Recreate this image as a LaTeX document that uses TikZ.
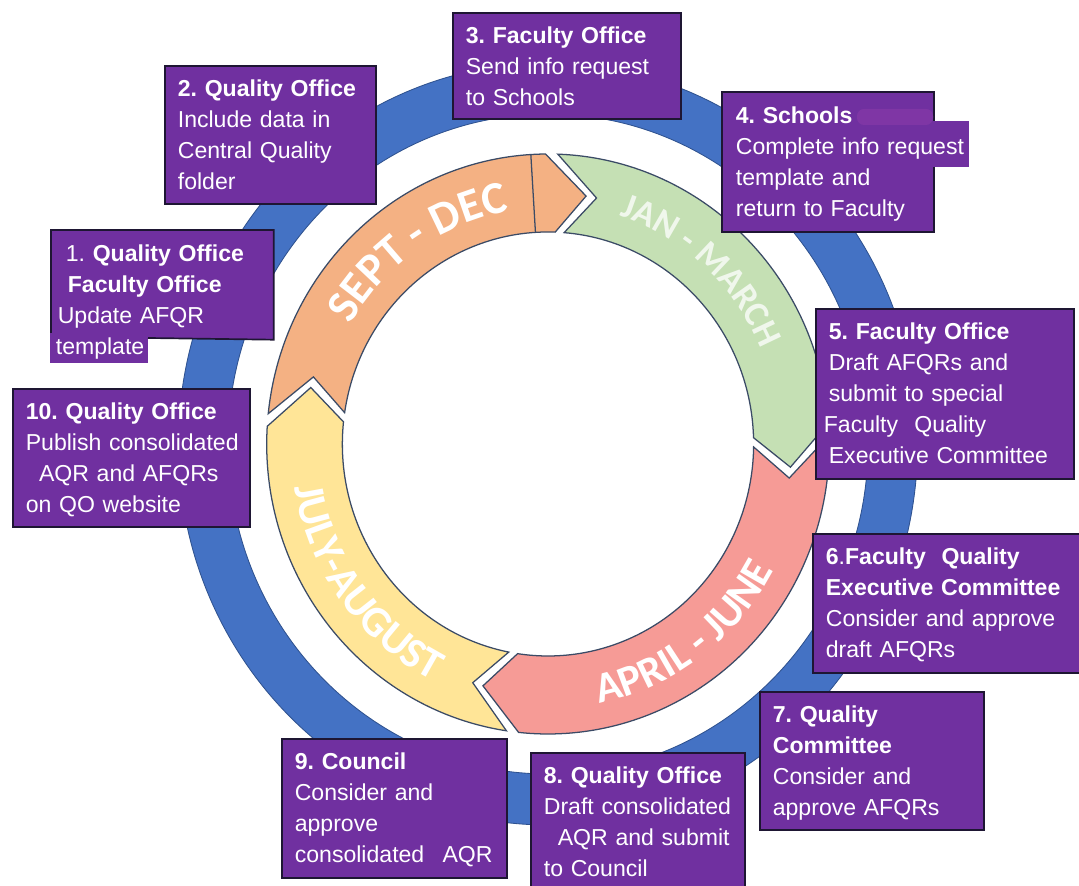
\documentclass[tikz,border=0pt]{standalone}
\usepackage{fontspec}
\setmainfont{Liberation Sans}
\newfontfamily\ringfont{Carlito}
\usetikzlibrary{decorations.text}

\definecolor{boxpurple}{HTML}{7030A0}
\definecolor{boxedge}{HTML}{1E1633}
\definecolor{ringblue}{HTML}{4472C4}
\definecolor{ringedge}{HTML}{2F528F}
\definecolor{sepdec}{HTML}{F4B183}
\definecolor{janmar}{HTML}{C5E0B4}
\definecolor{aprjun}{HTML}{F69B96}
\definecolor{julaug}{HTML}{FFE597}
\definecolor{segedge}{HTML}{3B4B66}
\definecolor{smudge}{HTML}{8238A6}

% radii of the coloured ring and sizes of the arrow heads (degrees)
\newcommand\ringout{290}
\newcommand\ringmid{251}
\newcommand\ringin{212}
\newcommand\headout{9.5}
\newcommand\headin{7}
\newcommand\headgap{2.5}

% one arrow of the cycle: colour, tip angle of the arrow before, own tip angle
\newcommand\ringseg[3]{%
  \filldraw[segline, fill=#1]
    ({#2+\headout-\headgap}:\ringout)
    arc[start angle={#2+\headout-\headgap}, end angle={#3+\headout}, radius=\ringout]
    -- (#3:\ringmid) -- ({#3+\headin}:\ringin)
    arc[start angle={#3+\headin}, end angle={#2+\headin-\headgap}, radius=\ringin]
    -- ({#2-\headgap}:\ringmid) -- cycle;}

\begin{document}
\begin{tikzpicture}[x=0.025cm, y=0.025cm,
  segline/.style={draw=segedge, line width=0.9pt},
  qline/.style={draw=boxedge, line width=1.2pt},
  qbox/.style={qline, fill=boxpurple, text=white, align=left, anchor=north west,
    inner xsep=0pt, inner ysep=0pt, text height=0.775cm,
    font=\fontsize{16.4}{22}\selectfont\frenchspacing,
    execute at begin node={\leftskip=0.325cm\relax}, execute at end node={\endgraf}},
  season/.style={decorate, decoration={text along path, text align=center,
    text color=white, text={#1}}}]
\useasboundingbox (0,0) rectangle (1079,886);

\begin{scope}[shift={(548,442)}, xscale=0.97]
% outer blue ring
\fill[ringblue, draw=ringedge, line width=0.6pt, even odd rule]
  (0,0) circle[radius=381] (0,0) circle[radius=330];

\ringseg{sepdec}{167}{81}
\ringseg{janmar}{81}{-5.3}
\ringseg{aprjun}{-5.3}{-105.5}
\ringseg{julaug}{-105.5}{-193}
\draw[segline] (93.5:\ringin) -- (93.5:\ringout);

\path[season={|\ringfont\bfseries\fontsize{32.7}{32.7}\selectfont|SEPT - DEC}]
  (164.5:236) arc[start angle=164.5, end angle=84.5, radius=236];
\path[season={|\ringfont\bfseries\fontsize{25.6}{25.6}\selectfont|JAN - MARCH},
  decoration={text color=janmar!25!white}]
  (88:239.5) arc[start angle=88, end angle=8, radius=239.5];
\path[season={|\ringfont\bfseries\fontsize{30.6}{30.6}\selectfont|APRIL - JUNE}]
  (-93.6:265) arc[start angle=-93.6, end angle=-13.6, radius=265];
\path[season={|\ringfont\bfseries\fontsize{30.6}{30.6}\selectfont|JULY-AUGUST}]
  (176.6:265) arc[start angle=176.6, end angle=256.6, radius=265];
\end{scope}

% step boxes
\fill[boxpurple] (50.3,553) rectangle (148,523);
\node[qbox, draw=none, text width=5.525cm, text depth=1.925cm,
  execute at begin node={\leftskip=0.1cm\relax}] (b1) at (51,656)
  {\hspace*{0.25cm}1. \textbf{Quality Office}\\\hspace*{0.3cm}\textbf{Faculty Office}\\\hspace*{0.05cm}Update AFQR\\template};
\draw[qline] (148,548) -- (b1.south east) -- (b1.north east) -- (b1.north west) -- (51,553);

\node[qbox, text width=5.275cm, text depth=2.675cm] (b2) at (164,821)
  {\textbf{2. Quality Office}\\Include data in\\Central Quality\\folder};

\node[qbox, text width=5.7cm, text depth=1.875cm] (b3) at (452,874)
  {\textbf{3. Faculty Office}\\Send info request\\to Schools};

\fill[boxpurple] (722,765) rectangle (969,719);
\node[qbox, draw=none, text width=5.25cm, text depth=2.675cm] (b4) at (722,794)
  {\textbf{4. Schools}\\\mbox{Complete info request}\\template and\\return to Faculty};
\draw[qline] (b4.east |- 0,719) -- (b4.south east) -- (b4.south west) -- (b4.north west)
  -- (b4.north east) -- (b4.east |- 0,765);
\fill[smudge, rounded corners=5, opacity=0.85] (857,777) rectangle (933,761);

\node[qbox, text width=6.45cm, text depth=3.475cm] (b5) at (815,578)
  {\textbf{5. Faculty Office}\\Draft AFQRs and\\submit to special\\\hspace*{-0.125cm}Faculty\hspace{0.215cm} Quality\\Executive Committee};

\node[qbox, text width=6.85cm, text depth=2.7cm] (b6) at (812,353)
  {\textbf{6}.\textbf{Faculty\hspace{0.2cm} Quality}\\\textbf{Executive Committee}\\Consider and approve\\draft AFQRs};

\node[qbox, text width=5.6cm, text depth=2.675cm] (b7) at (759,195)
  {\textbf{7. Quality}\\\textbf{Committee}\\Consider and\\approve AFQRs};

\node[qbox, text width=5.35cm, text depth=2.675cm] (b8) at (530,134)
  {\textbf{8. Quality Office}\\Draft consolidated\\\hspace*{0.35cm}AQR and submit\\to Council};

\node[qbox, text width=5.625cm, text depth=2.7cm] (b9) at (281,148)
  {\textbf{9. Council}\\Consider and\\approve\\consolidated\hspace{0.265cm} AQR};

\node[qbox, text width=5.925cm, text depth=2.675cm] (b10) at (12,498)
  {\textbf{10. Quality Office}\\Publish consolidated\\\hspace*{0.33cm}AQR and AFQRs\\on QO website};
\end{tikzpicture}
\end{document}
